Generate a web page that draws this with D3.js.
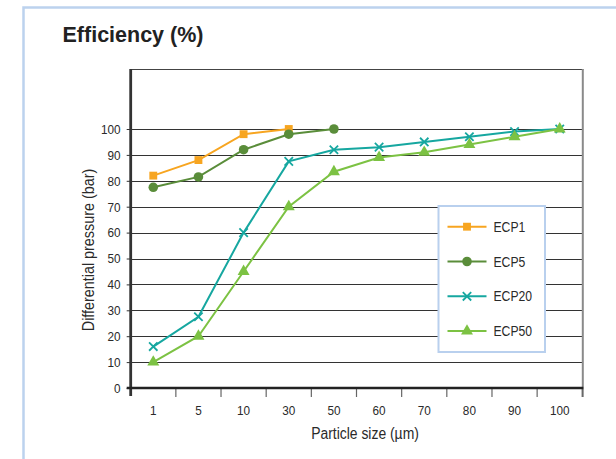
<!DOCTYPE html>
<html>
<head>
<meta charset="utf-8">
<script src="https://cdn.jsdelivr.net/npm/d3@7"></script>
<style>
  html, body { margin: 0; padding: 0; background: #fff; }
  svg { display: block; font-family: "Liberation Sans", Arial, sans-serif; }
</style>
</head>
<body>
<svg id="chart" width="616" height="459"></svg>
<script>
// ---- data ----
const categories = ["1", "5", "10", "30", "50", "60", "70", "80", "90", "100"];
const yTicks = [0, 10, 20, 30, 40, 50, 60, 70, 80, 90, 100];
const ecp1  = [82, 88, 98, 100, null, null, null, null, null, null];
const ecp5  = [77.5, 81.5, 92, 98, 100, null, null, null, null, null];
const ecp20 = [16, 27.5, 60, 87.5, 92, 93, 95, 97, 99, 100];
const ecp50 = [10, 20, 45, 70, 83.5, 89, 91, 94, 97, 100];
const seriesNames = ["ECP1", "ECP5", "ECP20", "ECP50"];
const titleText = "Efficiency (%)";
const yLabelText = "Differential pressure (bar)";
const xLabelText = "Particle size (µm)";

const series = [
  { name: seriesNames[0], values: ecp1,  color: "#f7a520", marker: "square" },
  { name: seriesNames[1], values: ecp5,  color: "#5a8d3a", marker: "circle" },
  { name: seriesNames[2], values: ecp20, color: "#16a7a0", marker: "x" },
  { name: seriesNames[3], values: ecp50, color: "#7cc243", marker: "triangle" }
];

const svg = d3.select("#chart");
const SX = 0.87; // horizontal condensing of the narrow label font

// condensed text helper
function ctext(parent, tx, ty, str, size, anchor, rotate) {
  return parent.append("text")
    .attr("transform", `translate(${tx},${ty})${rotate ? " rotate(" + rotate + ")" : ""} scale(${SX},1)`)
    .attr("text-anchor", anchor).attr("font-size", size).attr("fill", "#2a2a2a")
    .text(str);
}

// outer light-blue frame
svg.append("path")
  .attr("d", "M23.5,459 L23.5,7.5 L616,7.5")
  .attr("fill", "none").attr("stroke", "#bcd2ee").attr("stroke-width", 2.5);

// title
svg.append("text").attr("x", 62.5).attr("y", 41.5)
  .attr("font-size", 21.5).attr("font-weight", "bold").attr("fill", "#222")
  .text(titleText);

const plotLeft = 130.7, plotRight = 582.3, plotTop = 69, y0 = 388, y100 = 129;
const x = d3.scaleBand().domain(categories).range([plotLeft, plotRight]).padding(0);
const y = d3.scaleLinear().domain([0, 100]).range([y0, y100]);

// gridlines
svg.append("g").selectAll("line").data(yTicks.filter(d => d > 0)).join("line")
  .attr("x1", plotLeft).attr("x2", plotRight)
  .attr("y1", d => Math.round(y(d)) + 0.5).attr("y2", d => Math.round(y(d)) + 0.5)
  .attr("stroke", "#333").attr("stroke-width", 1);

// top frame line
svg.append("line").attr("x1", plotLeft).attr("x2", plotRight + 1)
  .attr("y1", plotTop + 0.5).attr("y2", plotTop + 0.5)
  .attr("stroke", "#444").attr("stroke-width", 1.2);
// right frame line
svg.append("line").attr("x1", plotRight + 0.5).attr("x2", plotRight + 0.5)
  .attr("y1", plotTop).attr("y2", y0 + 9)
  .attr("stroke", "#8a8a8a").attr("stroke-width", 2);

// y axis (tick marks from d3 axis, labels drawn condensed)
const yAxis = d3.axisLeft(y).tickValues(yTicks).tickSize(4).tickFormat("");
const gy = svg.append("g").attr("transform", `translate(${plotLeft},0)`).call(yAxis);
gy.select(".domain").remove();
gy.selectAll(".tick line").attr("stroke", "#333").attr("stroke-width", 1);
const gyl = svg.append("g");
yTicks.forEach(t => ctext(gyl, 120.5, y(t) + 4.8, String(t), 13.5, "end"));
svg.append("line").attr("x1", plotLeft).attr("x2", plotLeft)
  .attr("y1", plotTop).attr("y2", y0 + 8)
  .attr("stroke", "#333").attr("stroke-width", 2.8);

// x axis: ticks at band boundaries
const bounds = categories.map(c => x(c)).concat([x(categories[categories.length - 1]) + x.bandwidth()]);
svg.append("g").selectAll("line").data(bounds.slice(1)).join("line")
  .attr("x1", d => d).attr("x2", d => d)
  .attr("y1", y0).attr("y2", y0 + 9)
  .attr("stroke", "#666").attr("stroke-width", 1.2);
svg.append("line").attr("x1", plotLeft - 4).attr("x2", plotRight + 1)
  .attr("y1", y0).attr("y2", y0)
  .attr("stroke", "#222").attr("stroke-width", 2.6);
const gxl = svg.append("g");
categories.forEach(c => ctext(gxl, x(c) + x.bandwidth() / 2, 415, c, 13.5, "middle"));

// axis labels
ctext(svg, 365, 438.5, xLabelText, 16, "middle");
ctext(svg, 94, 250, yLabelText, 16.5, "middle", -90);

// markers
function markerPath(type) {
  if (type === "square") return d3.symbol(d3.symbolSquare, 62)();
  if (type === "circle") return d3.symbol(d3.symbolCircle, 72)();
  if (type === "triangle") return d3.symbol(d3.symbolTriangle, 62)();
  const s = 4.2;
  return `M${-s},${-s}L${s},${s}M${-s},${s}L${s},${-s}`;
}
function drawMarker(g, type, color, cx, cy) {
  const p = g.append("path").attr("d", markerPath(type))
    .attr("transform", `translate(${cx},${cy})`);
  if (type === "x") p.attr("fill", "none").attr("stroke", color).attr("stroke-width", 1.8);
  else p.attr("fill", color).attr("stroke", "none");
}

const line = d3.line()
  .defined(d => d.v !== null)
  .x(d => x(d.c) + x.bandwidth() / 2)
  .y(d => y(d.v));

series.forEach(s => {
  const pts = categories.map((c, i) => ({ c, v: s.values[i] }));
  const g = svg.append("g");
  g.append("path").datum(pts).attr("d", line)
    .attr("fill", "none").attr("stroke", s.color).attr("stroke-width", 2);
  pts.filter(p => p.v !== null).forEach(p =>
    drawMarker(g, s.marker, s.color, x(p.c) + x.bandwidth() / 2, y(p.v)));
});

// legend
const lg = svg.append("g");
lg.append("rect").attr("x", 438.5).attr("y", 206).attr("width", 106.5).attr("height", 146)
  .attr("fill", "#fff").attr("stroke", "#b9d0ee").attr("stroke-width", 2);
series.forEach((s, i) => {
  const ly = 226.7 + i * 34.8;
  lg.append("line").attr("x1", 447.5).attr("x2", 486.5).attr("y1", ly).attr("y2", ly)
    .attr("stroke", s.color).attr("stroke-width", 2);
  drawMarker(lg, s.marker, s.color, 467, ly);
  ctext(lg, 493.5, ly + 5, s.name, 14, "start");
});
</script>
</body>
</html>
